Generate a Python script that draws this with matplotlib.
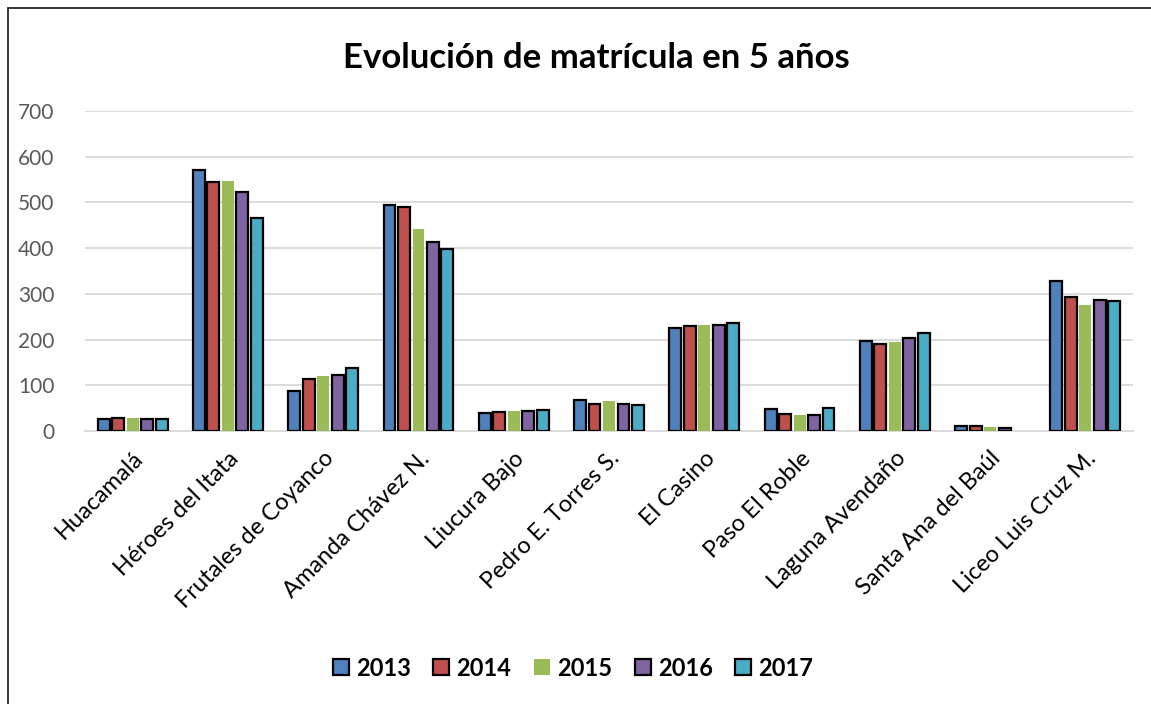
import numpy as np
import matplotlib.pyplot as plt
from matplotlib.patches import Rectangle

plt.rcParams['font.family'] = ['Lato', 'DejaVu Sans']

categories = ['Huacamalá', 'Héroes del Itata', 'Frutales de Coyanco', 'Amanda Chávez N.',
              'Liucura Bajo', 'Pedro E. Torres S.', 'El Casino', 'Paso El Roble',
              'Laguna Avendaño', 'Santa Ana del Baúl', 'Liceo Luis Cruz M.']
years = ['2013', '2014', '2015', '2016', '2017']

m2013 = [27, 571, 88, 495, 39, 68, 225, 49, 197, 11, 328]
m2014 = [29, 544, 113, 491, 42, 60, 230, 37, 191, 12, 294]
m2015 = [28, 547, 120, 442, 43, 65, 231, 35, 195, 9, 276]
m2016 = [27, 522, 123, 413, 43, 60, 231, 35, 203, 7, 287]
m2017 = [27, 467, 137, 398, 45, 57, 237, 51, 214, 0, 284]
series = [m2013, m2014, m2015, m2016, m2017]

colors = ['#4F81BD', '#C0504D', '#9BBB59', '#8064A2', '#4BACC6']
edges = ['black', 'black', 'none', 'black', 'black']

fig = plt.figure(figsize=(11.51, 7.04), dpi=100)
ax = fig.add_axes([85 / 1151, 1 - 431 / 704, (1133 - 85) / 1151, (431 - 111) / 704])

x = np.arange(len(categories))
slot = 0.152
for i, vals in enumerate(series):
    bars = ax.bar(x + (i - 2) * slot, vals, width=0.125, color=colors[i],
                  edgecolor=edges[i], linewidth=1.6, label=years[i], zorder=3)
    # no outline for empty bars
    for b, v in zip(bars, vals):
        if v == 0:
            b.set_linewidth(0)

ax.set_xlim(-0.5, len(categories) - 0.5)
ax.set_ylim(0, 700)
ax.set_yticks(range(0, 701, 100))
ax.yaxis.grid(True, color='#D9D9D9', linewidth=1.3, zorder=0)
ax.tick_params(axis='y', length=0, labelsize=15, labelcolor='#595959', pad=22)
ax.set_xticks(x)
ax.set_xticklabels(categories, rotation=45, ha='right', rotation_mode='anchor', fontsize=17)
ax.tick_params(axis='x', length=0, pad=12)
for s in ['top', 'right', 'left']:
    ax.spines[s].set_visible(False)
ax.spines['bottom'].set_color('#D9D9D9')
ax.spines['bottom'].set_linewidth(1.3)

fig.text(596 / 1151, 1 - 58 / 704, 'Evolución de matrícula en 5 años', ha='center', va='center',
         fontsize=25, fontweight='bold')

leg = fig.legend(loc='center', bbox_to_anchor=(573 / 1151, 1 - 668 / 704), ncol=5, frameon=False,
                 prop={'size': 17, 'weight': 'bold'}, handlelength=0.68, handleheight=0.68,
                 handletextpad=0.3, columnspacing=0.95)

# chart border
fig.patches.append(Rectangle((8 / 1151, -0.1), 1.2, 1 - 8 / 704 + 0.1, transform=fig.transFigure,
                             fill=False, edgecolor='#262626', linewidth=1.3))

fig.savefig('out.png', dpi=100)
